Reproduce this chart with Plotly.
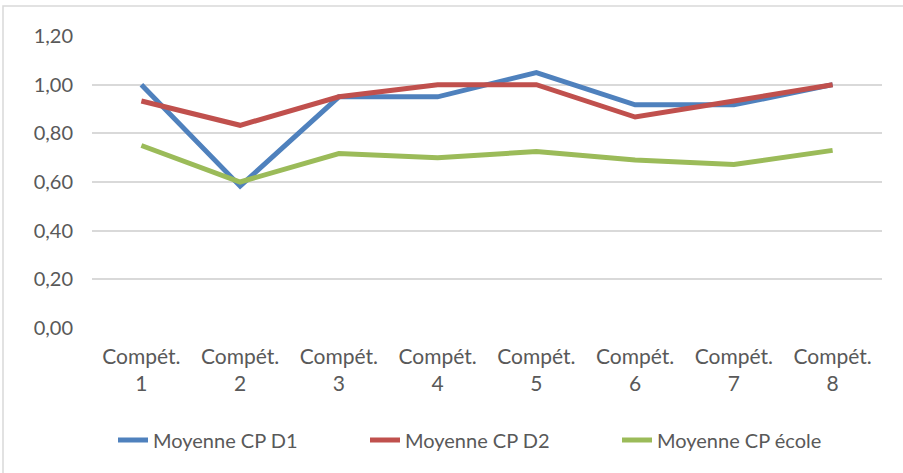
import plotly.graph_objects as go

categories = ["Compét.<br>1", "Compét.<br>2", "Compét.<br>3", "Compét.<br>4",
              "Compét.<br>5", "Compét.<br>6", "Compét.<br>7", "Compét.<br>8"]
d1 = [1.00, 0.583, 0.95, 0.95, 1.05, 0.917, 0.917, 1.00]
d2 = [0.933, 0.833, 0.95, 1.00, 1.00, 0.867, 0.933, 1.00]
ecole = [0.75, 0.60, 0.717, 0.70, 0.725, 0.69, 0.672, 0.73]
y_ticks = [0, 0.2, 0.4, 0.6, 0.8, 1.0, 1.2]

names = ["Moyenne CP D1", "Moyenne CP D2", "Moyenne CP école"]
colors = ["#4F81BD", "#C0504D", "#9BBB59"]

W, H = 903, 473
ml, mr, mt, mb = 92, 21, 36, 145
PW, PH = W - ml - mr, H - mt - mb

legend_ids = ["legend", "legend2", "legend3"]
legend_text_x = [153, 405, 657]  # where each legend text starts (px)

fig = go.Figure()
for name, vals, col, lid in zip(names, [d1, d2, ecole], colors, legend_ids):
    fig.add_trace(go.Scatter(x=categories, y=vals, mode="lines", name=name,
                             legend=lid, line=dict(color=col, width=5)))

font_family = "Lato, 'Open Sans', sans-serif"
legend_cfg = {}
for lid, tx in zip(legend_ids, legend_text_x):
    legend_cfg[lid] = dict(orientation="h", x=(tx - 40 - ml) / PW, xanchor="left",
                           y=(H - mb - 440) / PH, yanchor="middle",
                           font=dict(size=20, color="#595959"),
                           bgcolor="rgba(0,0,0,0)", borderwidth=0)

fig.update_layout(
    width=W, height=H,
    margin=dict(l=ml, r=mr, t=mt, b=mb, autoexpand=False),
    paper_bgcolor="white", plot_bgcolor="white",
    separators=", ",
    font=dict(family=font_family, size=20, color="#595959"),
    showlegend=True,
    xaxis=dict(type="category", range=[-0.5, 7.5], showgrid=False, zeroline=False,
               showline=False, ticks="", automargin=False,
               tickfont=dict(size=21, color="#595959"), ticklabelstandoff=14),
    yaxis=dict(range=[0, 1.2], tickvals=y_ticks, tickformat=".2f", automargin=False,
               showgrid=True, gridcolor="#D9D9D9", gridwidth=1.5,
               zeroline=False, showline=False, ticks="",
               tickfont=dict(size=20, color="#595959"), ticklabelstandoff=18),
    **legend_cfg,
)
# outer chart border
fig.add_shape(type="rect", xref="paper", yref="paper",
              x0=(3 - ml) / PW, x1=(W + 5 - ml) / PW,
              y0=(H - mb - (H + 5)) / PH, y1=(H - mb - 6) / PH,
              line=dict(color="#D9D9D9", width=1.5), layer="below")
fig.write_html("out.html", config={"displayModeBar": False},
               post_script="document.body.style.margin='0';document.body.style.overflow='hidden';")
